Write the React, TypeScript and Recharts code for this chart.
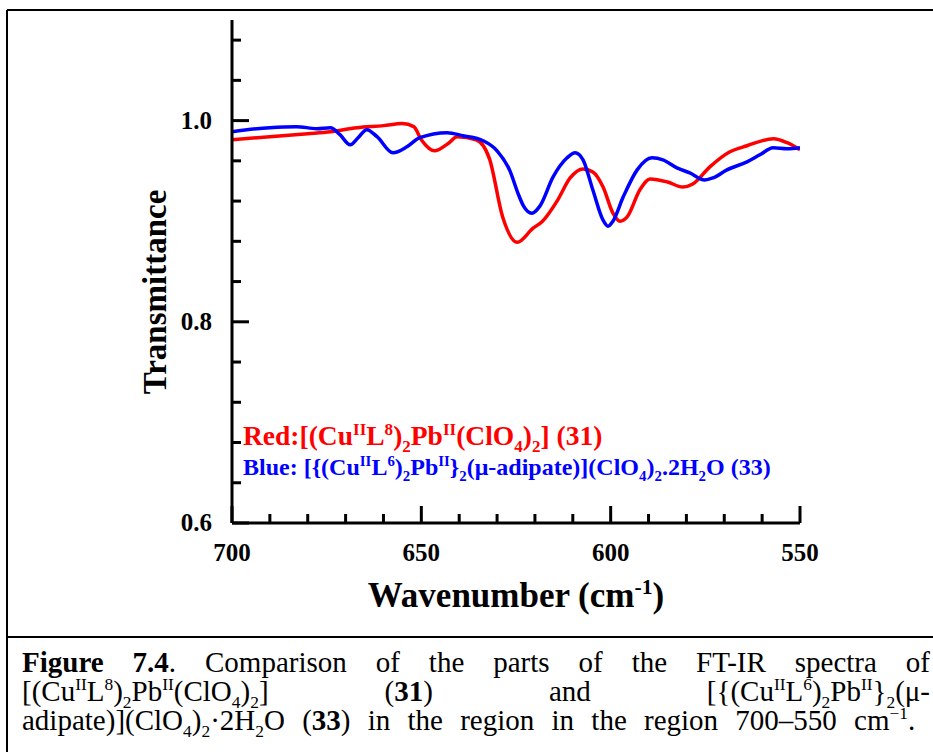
import React from 'react';
import { LineChart, Line, XAxis, YAxis } from 'recharts';

// red spectrum, compound 31
const redWavenumber = [700, 690, 680, 674, 667, 660, 655, 652, 650, 646.5, 643, 640.5, 635.5, 632, 628.5, 624.7, 620.5, 618, 614, 610.7, 607.3, 604.7, 602, 599.4, 597.5, 595.7, 592.3, 589.6, 585, 581, 578.3, 573.8, 568.5, 564, 557, 553.4, 550];
const redTransmittance = [0.981, 0.984, 0.987, 0.989, 0.993, 0.995, 0.997, 0.994, 0.981, 0.97, 0.977, 0.984, 0.981, 0.962, 0.904, 0.879, 0.893, 0.9, 0.921, 0.943, 0.952, 0.949, 0.934, 0.908, 0.9, 0.904, 0.931, 0.942, 0.939, 0.934, 0.937, 0.954, 0.969, 0.975, 0.982, 0.978, 0.971];

// blue spectrum, compound 33
const blueWavenumber = [700, 690, 683, 677.6, 674, 671.5, 668.8, 666.7, 664.4, 661.7, 657.5, 653.8, 650.4, 643.2, 639, 633.7, 630, 626.6, 624.5, 623, 620.8, 618.7, 615.2, 611.5, 609.4, 607.3, 604.7, 602, 600.7, 599.4, 596.7, 593, 589.1, 586.2, 582.5, 579.1, 575.2, 573, 569.3, 564, 560.6, 557.1, 553.4, 550];
const blueTransmittance = [0.989, 0.993, 0.994, 0.992, 0.993, 0.986, 0.976, 0.983, 0.991, 0.984, 0.968, 0.974, 0.983, 0.988, 0.985, 0.98, 0.97, 0.95, 0.928, 0.915, 0.908, 0.915, 0.944, 0.963, 0.968, 0.961, 0.931, 0.901, 0.895, 0.9, 0.924, 0.951, 0.963, 0.961, 0.953, 0.948, 0.941, 0.943, 0.951, 0.959, 0.966, 0.973, 0.972, 0.973];

const xTicks = [700, 690, 680, 670, 660, 650, 640, 630, 620, 610, 600, 590, 580, 570, 560, 550];
const xMajorTicks = [700, 650, 600, 550];
const yTicks = [0.6, 0.64, 0.68, 0.72, 0.76, 0.8, 0.84, 0.88, 0.92, 0.96, 1.0, 1.04, 1.08];
const yMajorTicks = [0.6, 0.8, 1.0];

const redData = redWavenumber.map((wn, i) => ({ wn, t: redTransmittance[i] }));
const blueData = blueWavenumber.map((wn, i) => ({ wn, t: blueTransmittance[i] }));

type Seg = [string, ('sup' | 'sub')?];

const redLabel: Seg[] = [['Red:[(Cu'], ['II', 'sup'], ['L'], ['8', 'sup'], [')'], ['2', 'sub'], ['Pb'], ['II', 'sup'], ['(ClO'], ['4', 'sub'], [')'], ['2', 'sub'], ['] (31)']];
const blueLabel: Seg[] = [['Blue: [{(Cu'], ['II', 'sup'], ['L'], ['6', 'sup'], [')'], ['2', 'sub'], ['Pb'], ['II', 'sup'], ['}'], ['2', 'sub'], ['(\u03bc-adipate)](ClO'], ['4', 'sub'], [')'], ['2', 'sub'], ['.2H'], ['2', 'sub'], ['O (33)']];

const SERIF = '"Liberation Serif", "Times New Roman", serif';
const GAP = 20;

// svg text with super/subscripts
const rich = (segs: Seg[], size: number) => {
  const shiftOf = (k?: string) => (k === 'sup' ? -0.38 : k === 'sub' ? 0.25 : 0) * size;
  return segs.map(([t, k], i) => {
    const prev = i > 0 ? segs[i - 1][1] : undefined;
    return (
      <tspan key={i} dy={shiftOf(k) - shiftOf(prev)} fontSize={k ? size * 0.62 : size}>
        {t}
      </tspan>
    );
  });
};

const XTick = (props: any) => {
  const { x, y, payload } = props;
  const major = xMajorTicks.includes(payload.value);
  const axisY = y - GAP;
  return (
    <g>
      <line x1={x} x2={x} y1={axisY} y2={axisY - (major ? 17 : 9)} stroke="#000" strokeWidth={3} />
      {major && (
        <text x={x} y={axisY + 38} textAnchor="middle" fontFamily={SERIF} fontWeight="bold" fontSize={25} fill="#000">
          {payload.value}
        </text>
      )}
    </g>
  );
};

const YTick = (props: any) => {
  const { x, y, payload } = props;
  const major = yMajorTicks.includes(payload.value);
  const axisX = x + GAP;
  return (
    <g>
      <line x1={axisX} x2={axisX + (major ? 17 : 9)} y1={y} y2={y} stroke="#000" strokeWidth={3} />
      {major && (
        <text x={axisX - 20} y={y + 8} textAnchor="end" fontFamily={SERIF} fontWeight="bold" fontSize={25} fill="#000">
          {payload.value.toFixed(1)}
        </text>
      )}
    </g>
  );
};

const frame = { stroke: '#000', strokeWidth: 3 };
const sup = { fontSize: '0.6em', verticalAlign: 'super', lineHeight: 0 } as const;
const sub = { fontSize: '0.6em', verticalAlign: 'sub', lineHeight: 0 } as const;
const captionLine = {
  whiteSpace: 'nowrap',
  textAlign: 'justify',
  textAlignLast: 'justify',
  height: 29,
} as const;

export default function App() {
  return (
    <div style={{ position: 'absolute', left: 0, top: 0, width: 933, height: 752, background: '#fff', overflow: 'hidden' }}>
      <LineChart width={933} height={640} margin={{ top: 20, right: 133, left: 172, bottom: 57 }}>
        <XAxis
          dataKey="wn"
          type="number"
          domain={[550, 700]}
          reversed
          ticks={xTicks}
          interval={0}
          tickSize={0}
          tickMargin={GAP}
          tickLine={false}
          tick={<XTick />}
          axisLine={frame}
          height={60}
          allowDataOverflow
        />
        <XAxis xAxisId="top" orientation="top" type="number" domain={[550, 700]} height={0} tick={false} tickLine={false} axisLine={frame} />
        <YAxis
          type="number"
          domain={[0.6, 1.1]}
          ticks={yTicks}
          interval={0}
          tickSize={0}
          tickMargin={GAP}
          tickLine={false}
          tick={<YTick />}
          axisLine={frame}
          width={60}
          allowDataOverflow
        />
        <YAxis yAxisId="right" orientation="right" type="number" domain={[0.6, 1.1]} width={0} tick={false} tickLine={false} axisLine={frame} />
        <Line data={redData} dataKey="t" type="monotone" stroke="#ff0000" strokeWidth={3.5} dot={false} isAnimationActive={false} />
        <Line data={blueData} dataKey="t" type="monotone" stroke="#0000ff" strokeWidth={3.5} dot={false} isAnimationActive={false} />
      </LineChart>

      <svg width={933} height={752} style={{ position: 'absolute', left: 0, top: 0, pointerEvents: 'none' }}>
        <line x1={7} y1={10} x2={933} y2={10} stroke="#000" strokeWidth={2} />
        <line x1={7} y1={10} x2={7} y2={752} stroke="#000" strokeWidth={2} />
        <line x1={7} y1={637} x2={933} y2={637} stroke="#000" strokeWidth={2} />
        <text
          transform="translate(166,292) rotate(-90)"
          textAnchor="middle"
          fontFamily={SERIF}
          fontWeight="bold"
          fontSize={33}
          fill="#000"
        >
          Transmittance
        </text>
        <text x={516} y={607} textAnchor="middle" fontFamily={SERIF} fontWeight="bold" fontSize={35} fill="#000">
          {rich([['Wavenumber (cm'], ['-1', 'sup'], [')']], 35)}
        </text>
        <text x={243} y={445} fontFamily={SERIF} fontWeight="bold" fill="#ff0000">
          {rich(redLabel, 27.5)}
        </text>
        <text x={243} y={475} fontFamily={SERIF} fontWeight="bold" fill="#0000ff">
          {rich(blueLabel, 24)}
        </text>
      </svg>

      <div style={{ position: 'absolute', left: 22, top: 648, width: 908, fontFamily: SERIF, fontSize: 29, lineHeight: '29px', color: '#000' }}>
        <div style={captionLine}>
          <b>Figure 7.4</b>. Comparison of the parts of the FT-IR spectra of
        </div>
        <div style={captionLine}>
          [(Cu<span style={sup}>II</span>L<span style={sup}>8</span>)<span style={sub}>2</span>Pb<span style={sup}>II</span>(ClO<span style={sub}>4</span>)<span style={sub}>2</span>] (<b>31</b>) and [{'{'}(Cu<span style={sup}>II</span>L<span style={sup}>6</span>)<span style={sub}>2</span>Pb<span style={sup}>II</span>{'}'}<span style={sub}>2</span>(μ-
        </div>
        <div style={{ whiteSpace: 'nowrap', height: 29, wordSpacing: 10 }}>
          adipate)](ClO<span style={sub}>4</span>)<span style={sub}>2</span>·2H<span style={sub}>2</span>O (<b>33</b>) in the region in the region 700–550 cm<span style={sup}>−1</span>.
        </div>
      </div>
    </div>
  );
}
